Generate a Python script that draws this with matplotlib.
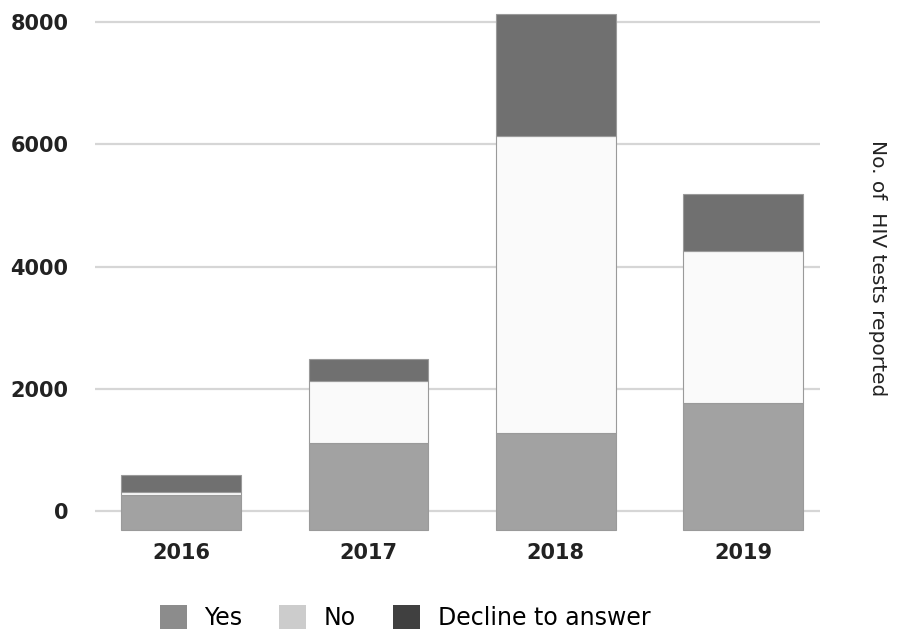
import matplotlib
matplotlib.use('Agg')
import matplotlib.pyplot as plt
import matplotlib.transforms as mtrans
from matplotlib.patches import Patch
import numpy as np

years=['2016','2017','2018','2019']
yes=[570,1430,1590,2080]
no=[50,1000,4850,2480]
decline=[280,360,2000,930]
labels=['Yes','No','Decline to answer']
bar_cols=['#a2a2a2','#fafafa','#707070']
leg_cols=['#8c8c8c','#cccccc','#404040']
yticks=[0,2000,4000,6000,8000]

plt.rcParams['font.family']=['DejaVu Sans']
fig=plt.figure(figsize=(8.98,6.29),dpi=100)
ax=fig.add_axes([95/898,1-535/629,725/898,525/629])
ax.set_xlim(-0.46,3.41)
ax.set_ylim(-393,8197)

for v in yticks:
  ax.axhline(v,color='#d6d6d6',lw=1.6,zorder=0)

# front face of the 3D bars sits a bit lower than the back grid
shift=mtrans.offset_copy(ax.transData,fig=fig,x=0,y=-19,units='dots')
x=np.arange(len(years))
bottom=np.zeros(len(years))
for vals,c in zip([yes,no,decline],bar_cols):
  ax.bar(x,vals,0.64,bottom=bottom,color=c,edgecolor='#9a9a9a',lw=0.8,
         transform=shift,zorder=2)
  bottom+=np.array(vals)

ax.set_xticks(x)
ax.set_xticklabels(years,fontsize=15,fontweight='bold',color='#222222')
ax.set_yticks(yticks)
ax.set_yticklabels([str(v) for v in yticks],fontsize=15,fontweight='bold',color='#222222')
ax.tick_params(length=0)
ax.tick_params(axis='x',pad=6)
ax.tick_params(axis='y',pad=19)
for s in ax.spines.values():
  s.set_visible(False)

fig.text(0.977,1-268/629,'No. of  HIV tests reported',rotation=-90,fontsize=14.5,
         ha='center',va='center',color='#222222')

handles=[Patch(facecolor=c,edgecolor='none') for c in leg_cols]
fig.legend(handles,labels,loc='center',bbox_to_anchor=(0.451,0.018),ncol=3,frameon=False,
           fontsize=17,handlelength=1.15,handleheight=1.15,handletextpad=0.75,columnspacing=1.55)
fig.savefig('out.png',dpi=100)
